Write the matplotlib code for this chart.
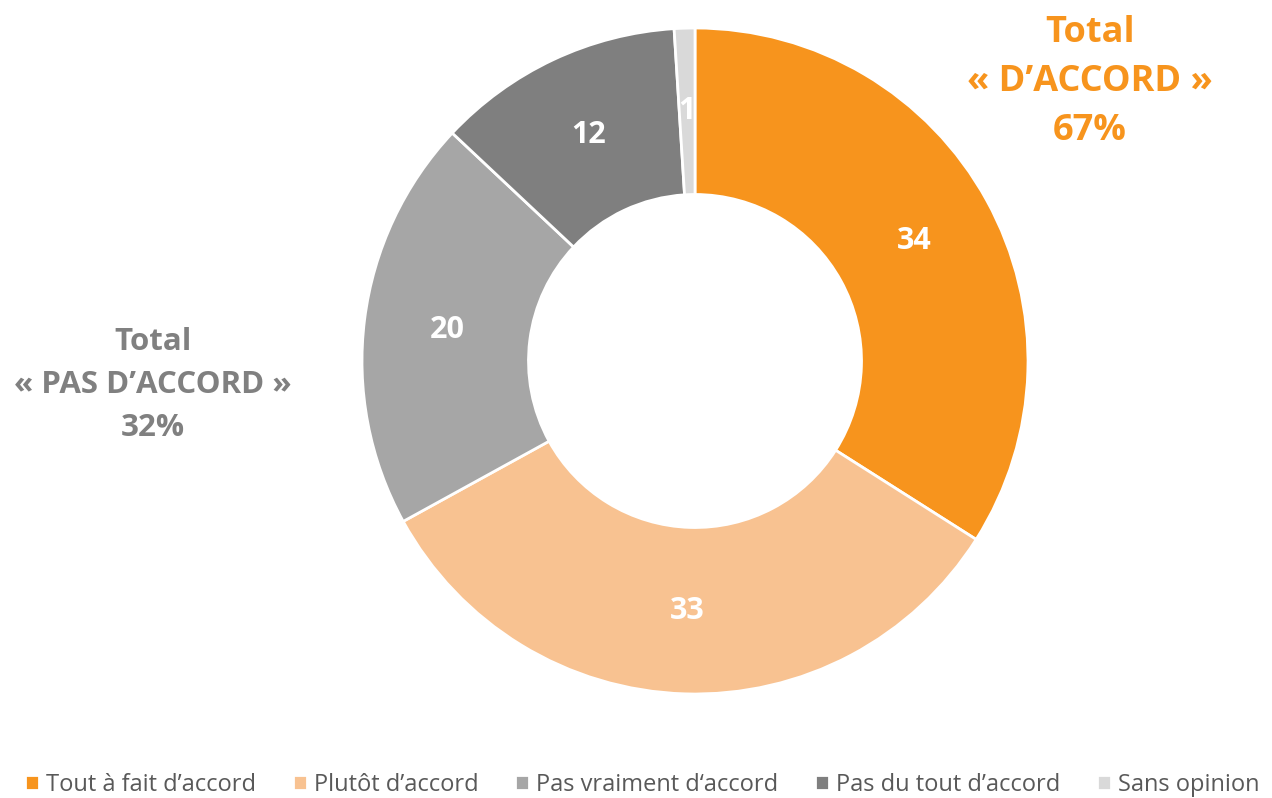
import matplotlib
matplotlib.use("Agg")
import matplotlib.pyplot as plt
import numpy as np

categories = ["Tout à fait d\u2019accord", "Plutôt d\u2019accord", "Pas vraiment d\u2018accord",
              "Pas du tout d\u2019accord", "Sans opinion"]
values = [34, 33, 20, 12, 1]
colors = ["#F7941D", "#F8C291", "#A6A6A6", "#7F7F7F", "#D9D9D9"]
total_accord = "Total\n\u00ab D\u2019ACCORD \u00bb\n67%"
total_pas = "Total\n\u00ab PAS D\u2019ACCORD \u00bb\n32%"

plt.rcParams['font.family'] = ['Open Sans', 'DejaVu Sans']

W, H = 1272, 798
fig = plt.figure(figsize=(W / 100, H / 100), dpi=100)
cx, cy, r = 695, 798 - 361, 333
ax = fig.add_axes([(cx - r) / W, (cy - r) / H, 2 * r / W, 2 * r / H])

wedges, texts = ax.pie(values, colors=colors, startangle=90, counterclock=False,
                       radius=1, wedgeprops=dict(width=0.5, edgecolor="white", linewidth=2))
cum = 0
for v in values:
    mid = 90 - (cum + v / 2) / sum(values) * 360
    cum += v
    x = 0.75 * np.cos(np.radians(mid))
    y = 0.75 * np.sin(np.radians(mid))
    ax.text(x, y, str(v), ha="center", va="center", color="white",
            fontsize=22, fontweight="bold")
ax.set_xlim(-1, 1)
ax.set_ylim(-1, 1)
ax.set_aspect("equal")
ax.axis("off")

fig.text(1090 / W, 1 - 82 / H, total_accord, ha="center", va="center", color="#F7941D",
         fontsize=26, fontweight="bold", linespacing=1.5)
fig.text(153 / W, 1 - 385 / H, total_pas, ha="center", va="center", color="#808080",
         fontsize=22.5, fontweight="bold", linespacing=1.55)

fig.legend(wedges, categories, loc="center", bbox_to_anchor=(0.505, 1 - 785 / H), ncol=5,
           frameon=False, fontsize=17, handlelength=0.6, handleheight=0.6,
           handletextpad=0.3, columnspacing=1.55, labelcolor="#595959")

fig.savefig("out.png", dpi=100)
